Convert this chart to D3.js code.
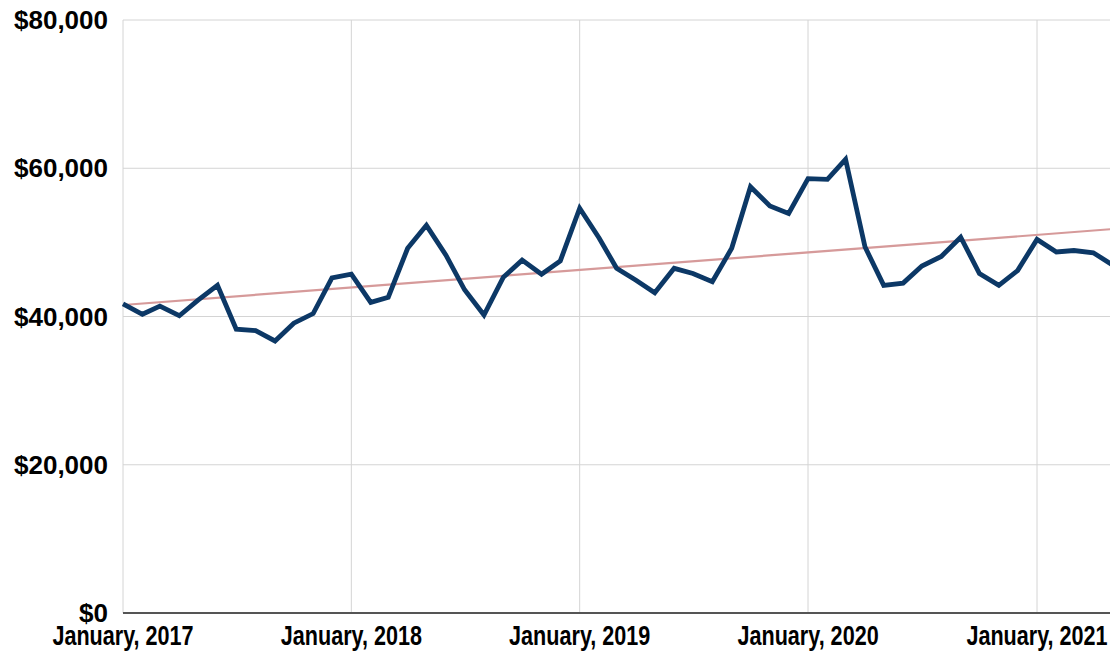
<!DOCTYPE html>
<html lang="en">
	<head>
		<meta charset="utf-8">
		<title>Monthly line chart with trend</title>
		<script type="text/javascript" src="https://cdn.jsdelivr.net/npm/d3@7"></script>
		<style type="text/css">
			body {
				margin: 0;
				background: #fff;
			}
			.label {
				font-family: "Liberation Sans", Arial, sans-serif;
				font-weight: bold;
				fill: #000;
			}
			.grid line {
				stroke: #d4d4d4;
				stroke-width: 1;
			}
		</style>
	</head>
	<body>
		<script type="text/javascript">

			//Width and height
			var w = 1110;
			var h = 654;

			//monthly values, January 2017 .. May 2021
			var startMonth = [2017, 0];
			var values = [
				41700, 40300, 41400, 40100, 42200, 44200, 38300, 38100, 36700, 39100, 40400, 45200,
				45700, 41900, 42600, 49200, 52300, 48300, 43600, 40200, 45300, 47600, 45700, 47500,
				54600, 50600, 46500, 44900, 43200, 46500, 45800, 44700, 49200, 57500, 54900, 53900,
				58600, 58500, 61200, 49400, 44200, 44500, 46800, 48100, 50700, 45800, 44200, 46200,
				50400, 48700, 48900, 48600, 47000
			];
			//trend line end points (first and last month)
			var trendValues = [41550, 51790];

			var yTicks = [0, 20000, 40000, 60000, 80000];
			var xTickYears = [2017, 2018, 2019, 2020, 2021];

			var months = values.map(function (d, i) {
				return new Date(startMonth[0], startMonth[1] + i, 1);
			});

			var padLeft = 123, padTop = 20, padBottom = 613;

			var x = d3.scaleTime()
				.domain([months[0], new Date(2021, 0, 1)])
				.range([padLeft, 1037]);
			var y = d3.scaleLinear()
				.domain([0, 80000])
				.range([padBottom, padTop]);

			var svg = d3.select("body")
				.append("svg")
				.attr("width", w)
				.attr("height", h);

			//gridlines
			var grid = svg.append("g").attr("class", "grid");
			grid.selectAll(".hg")
				.data(yTicks)
				.enter()
				.append("line")
				.attr("x1", padLeft)
				.attr("x2", w)
				.attr("y1", function (d) { return y(d); })
				.attr("y2", function (d) { return y(d); });

			var tickDates = xTickYears.map(function (yr) { return new Date(yr, 0, 1); });
			grid.selectAll(".vg")
				.data(tickDates)
				.enter()
				.append("line")
				.attr("x1", function (d) { return x(d); })
				.attr("x2", function (d) { return x(d); })
				.attr("y1", padTop)
				.attr("y2", padBottom);

			//trend line
			svg.append("line")
				.attr("x1", x(months[0]))
				.attr("y1", y(trendValues[0]))
				.attr("x2", x(months[months.length - 1]))
				.attr("y2", y(trendValues[1]))
				.attr("stroke", "#d69a9a")
				.attr("stroke-width", 2.2);

			//main series
			var line = d3.line()
				.x(function (d, i) { return x(months[i]); })
				.y(function (d) { return y(d); });

			svg.append("path")
				.datum(values)
				.attr("d", line)
				.attr("fill", "none")
				.attr("stroke", "#0c3866")
				.attr("stroke-width", 4.8)
				.attr("stroke-linejoin", "miter");

			//baseline
			svg.append("line")
				.attr("x1", padLeft)
				.attr("x2", w)
				.attr("y1", y(0))
				.attr("y2", y(0))
				.attr("stroke", "#555")
				.attr("stroke-width", 2);

			//y labels
			svg.selectAll(".ylab")
				.data(yTicks)
				.enter()
				.append("text")
				.attr("class", "label")
				.attr("transform", function (d) { return "translate(108," + y(d) + ")"; })
				.attr("dy", "0.35em")
				.attr("text-anchor", "end")
				.style("font-size", "26px")
				.text(function (d) { return d3.format("$,")(d); });

			//x labels
			svg.selectAll(".xlab")
				.data(tickDates)
				.enter()
				.append("text")
				.attr("class", "label")
				.attr("transform", function (d) { return "translate(" + x(d) + ",645) scale(0.8,1)"; })
				.attr("text-anchor", "middle")
				.style("font-size", "27px")
				.text(function (d) { return d3.timeFormat("%B, %Y")(d); });

		</script>
	</body>
</html>
